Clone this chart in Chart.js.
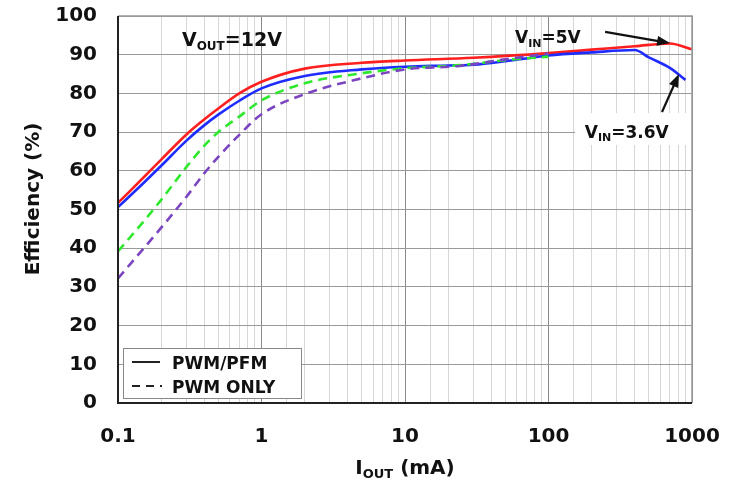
<!DOCTYPE html>
<html>
<head>
<meta charset="utf-8">
<script src="https://cdn.jsdelivr.net/npm/chart.js@4.4.1/dist/chart.umd.min.js"></script>
<style>
  html, body { margin: 0; padding: 0; background: #fff; }
  #wrap { width: 735px; height: 483px; }
</style>
</head>
<body>
<div id="wrap"><canvas id="effChart" width="735" height="483"></canvas></div>
<script>
// ---- data (I_OUT in mA, efficiency in %) ----
const vin5PfmI   = [0.1, 0.15, 0.2, 0.3, 0.4, 0.5, 0.7, 1, 2, 5, 10, 30, 100, 200, 400, 700, 1000];
const vin5PfmEff = [51.7, 58.2, 62.9, 69.4, 73.3, 76.1, 80, 83, 86.4, 87.9, 88.5, 89.2, 90.4, 91.3, 92.2, 92.9, 91.4];

const vin36PfmI   = [0.1, 0.15, 0.2, 0.3, 0.4, 0.5, 0.7, 1, 2, 5, 10, 20, 30, 50, 100, 200, 400, 500, 700, 900];
const vin36PfmEff = [50.6, 56.8, 61.3, 67.8, 71.8, 74.5, 78.1, 81.3, 84.5, 86.2, 86.9, 87.2, 87.4, 88.3, 89.8, 90.6, 91.2, 89.3, 86.6, 83.5];

const vin5PwmI   = [0.1, 0.15, 0.2, 0.3, 0.4, 0.5, 0.7, 1, 2, 5, 10, 24, 50, 100];
const vin5PwmEff = [39.2, 46.8, 52.5, 61, 66.5, 70, 74, 78.2, 82.6, 85.2, 86.5, 87.3, 88.6, 89.5];

const vin36PwmI   = [0.1, 0.2, 0.3, 0.4, 0.5, 0.7, 1, 2, 5, 10, 24, 50, 100];
const vin36PwmEff = [32.2, 45.3, 53.3, 59.4, 63.6, 69.3, 74.6, 79.8, 83.9, 86.2, 87.1, 88.8, 90.3];

const xTickLabels = [0.1, 1, 10, 100, 1000];
const legendLabels = ["PWM/PFM", "PWM ONLY"];

const FONT = "'DejaVu Sans', Arial, sans-serif";

function toPoints(xs, ys) {
    return xs.map((x, i) => ({ x: x, y: ys[i] }));
}

function isDecade(v) {
    const l = Math.log10(v);
    return Math.abs(l - Math.round(l)) < 1e-6;
}

// text with a subscript part, e.g. V + OUT + =12V
function subText(ctx, x, y, main, sub, rest, size, subSize) {
    ctx.font = "bold " + size + "px " + FONT;
    ctx.fillText(main, x, y);
    x += ctx.measureText(main).width;
    ctx.font = "bold " + subSize + "px " + FONT;
    ctx.fillText(sub, x, y + size * 0.22);
    x += ctx.measureText(sub).width;
    ctx.font = "bold " + size + "px " + FONT;
    ctx.fillText(rest, x, y);
}

function arrow(ctx, x1, y1, x2, y2) {
    const a = Math.atan2(y2 - y1, x2 - x1);
    const hl = 13, hw = 5;
    ctx.strokeStyle = "#111";
    ctx.fillStyle = "#111";
    ctx.lineWidth = 2.2;
    ctx.beginPath();
    ctx.moveTo(x1, y1);
    ctx.lineTo(x2 - Math.cos(a) * hl * 0.8, y2 - Math.sin(a) * hl * 0.8);
    ctx.stroke();
    ctx.beginPath();
    ctx.moveTo(x2, y2);
    ctx.lineTo(x2 - Math.cos(a) * hl - Math.sin(a) * hw, y2 - Math.sin(a) * hl + Math.cos(a) * hw);
    ctx.lineTo(x2 - Math.cos(a) * hl + Math.sin(a) * hw, y2 - Math.sin(a) * hl - Math.cos(a) * hw);
    ctx.closePath();
    ctx.fill();
}

const decorPlugin = {
    id: "decor",
    afterDatasetsDraw(chart) {
        const ctx = chart.ctx;
        const a = chart.chartArea;
        const xs = chart.scales.x, ys = chart.scales.y;
        const px = v => xs.getPixelForValue(v);
        const py = v => ys.getPixelForValue(v);
        ctx.save();

        // white patch behind the 3.6V label
        ctx.fillStyle = "#fff";
        ctx.fillRect(px(153), py(74.9), a.right - px(153), py(66.7) - py(74.9));

        // plot frame
        ctx.lineWidth = 1.5;
        ctx.strokeStyle = "#999";
        ctx.beginPath();
        ctx.moveTo(a.left, a.top); ctx.lineTo(a.right, a.top); ctx.lineTo(a.right, a.bottom);
        ctx.stroke();
        ctx.lineWidth = 2;
        ctx.strokeStyle = "#222";
        ctx.beginPath();
        ctx.moveTo(a.left, a.top); ctx.lineTo(a.left, a.bottom); ctx.lineTo(a.right, a.bottom);
        ctx.stroke();

        // annotations
        ctx.fillStyle = "#111";
        ctx.textBaseline = "alphabetic";
        ctx.textAlign = "left";
        subText(ctx, px(0.279), py(92.2), "V", "OUT", "=12V", 19, 12);
        subText(ctx, px(58.5), py(93), "V", "IN", "=5V", 17, 11);
        subText(ctx, px(179), py(68.6), "V", "IN", "=3.6V", 17, 11);
        arrow(ctx, px(248), py(95.9), px(703), py(93.0));
        arrow(ctx, px(618), py(75.2), px(811), py(85.0));

        // legend box
        const lx = a.left + 5, ly = a.bottom - 55, lw = 178, lh = 50;
        ctx.fillStyle = "#fff";
        ctx.fillRect(lx, ly, lw, lh);
        ctx.strokeStyle = "#888";
        ctx.lineWidth = 1;
        ctx.strokeRect(lx + 0.5, ly + 0.5, lw, lh);
        ctx.strokeStyle = "#222";
        ctx.lineWidth = 2;
        ctx.beginPath();
        ctx.moveTo(lx + 9, ly + 14); ctx.lineTo(lx + 37, ly + 14);
        ctx.stroke();
        ctx.setLineDash([8, 6]);
        ctx.beginPath();
        ctx.moveTo(lx + 9, ly + 38); ctx.lineTo(lx + 39, ly + 38);
        ctx.stroke();
        ctx.setLineDash([]);
        ctx.fillStyle = "#111";
        ctx.font = "bold 17px " + FONT;
        ctx.fillText(legendLabels[0], lx + 49, ly + 21);
        ctx.fillText(legendLabels[1], lx + 49, ly + 45);

        // axis titles
        ctx.textAlign = "center";
        ctx.save();
        ctx.translate(34, 199);
        ctx.rotate(-Math.PI / 2);
        ctx.font = "bold 20px " + FONT;
        ctx.textBaseline = "middle";
        ctx.fillText("Efficiency (%)", 0, 0);
        ctx.restore();

        ctx.textAlign = "left";
        ctx.textBaseline = "alphabetic";
        ctx.font = "bold 20px " + FONT;
        const w1 = ctx.measureText("I").width;
        const w3 = ctx.measureText(" (mA)").width;
        ctx.font = "bold 13px " + FONT;
        const w2 = ctx.measureText("OUT").width;
        const tx = (a.left + a.right) / 2 - (w1 + w2 + w3) / 2;
        subText(ctx, tx, 474, "I", "OUT", " (mA)", 20, 13);

        ctx.restore();
    }
};

function line(data, color, dashed) {
    return {
        data: data,
        borderColor: color,
        borderWidth: 2.6,
        borderDash: dashed ? [9, 6] : [],
        pointRadius: 0,
        cubicInterpolationMode: "monotone",
        fill: false
    };
}

function noPad(s) {
    s.paddingTop = 0;
    s.paddingBottom = 0;
    s.paddingLeft = 0;
    s.paddingRight = 0;
}

new Chart(document.getElementById("effChart"), {
    type: "line",
    data: {
        datasets: [
            line(toPoints(vin36PwmI, vin36PwmEff), "#7b45c2", true),
            line(toPoints(vin5PwmI, vin5PwmEff), "#2ee82e", true),
            line(toPoints(vin36PfmI, vin36PfmEff), "#1f2cff", false),
            line(toPoints(vin5PfmI, vin5PfmEff), "#ff1f1f", false)
        ]
    },
    options: {
        responsive: false,
        animation: false,
        layout: { padding: { top: 16, right: 43, left: 0, bottom: 0 } },
        plugins: { legend: { display: false }, tooltip: { enabled: false } },
        scales: {
            x: {
                type: "logarithmic",
                min: 0.1,
                max: 1000,
                afterFit: s => { s.height = 80; noPad(s); },
                border: { display: false },
                grid: {
                    drawTicks: false,
                    lineWidth: 1,
                    color: c => (c.tick && isDecade(c.tick.value)) ? "#8a8a8a" : "#d6d6d6"
                },
                ticks: {
                    autoSkip: false,
                    maxRotation: 0,
                    padding: 22,
                    color: "#111",
                    font: { family: FONT, size: 20, weight: "bold" },
                    callback: v => {
                        const hit = xTickLabels.find(t => Math.abs(Math.log10(v) - Math.log10(t)) < 1e-6);
                        return hit === undefined ? "" : String(hit);
                    }
                }
            },
            y: {
                min: 0,
                max: 100,
                afterFit: s => { s.width = 118; noPad(s); },
                border: { display: false },
                grid: { drawTicks: false, color: "#9a9a9a", lineWidth: 1 },
                ticks: {
                    stepSize: 10,
                    padding: 21,
                    color: "#111",
                    font: { family: FONT, size: 20, weight: "bold" }
                }
            }
        }
    },
    plugins: [decorPlugin]
});
</script>
</body>
</html>
